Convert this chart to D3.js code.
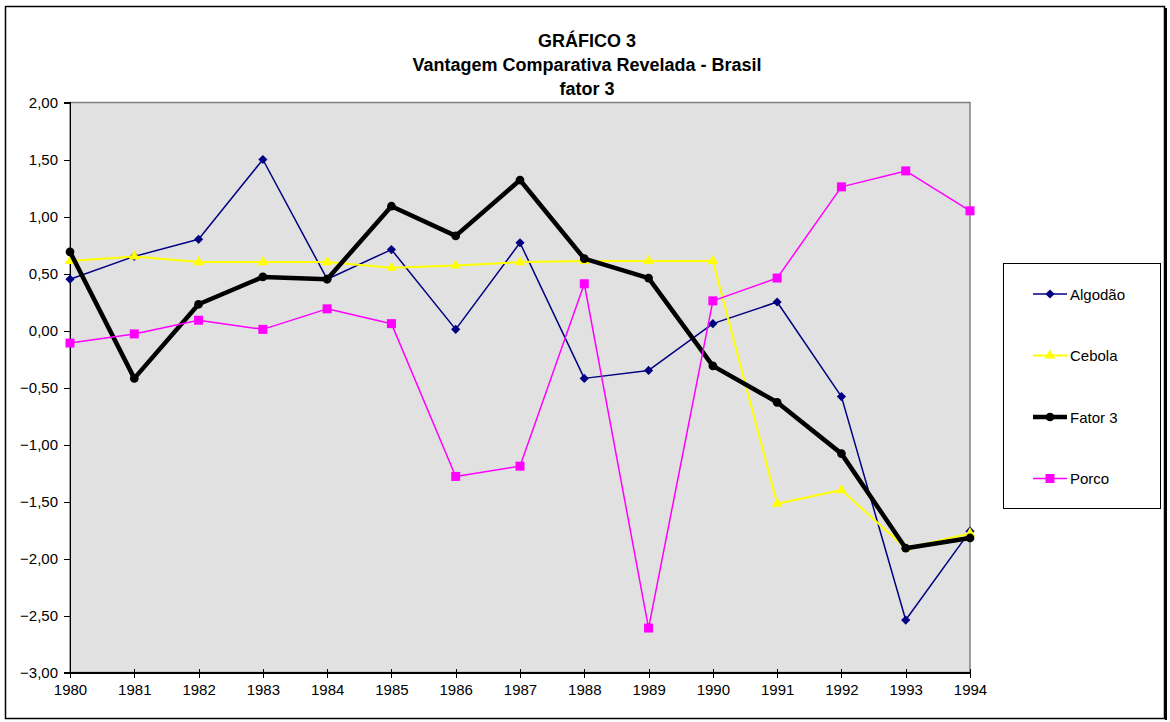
<!DOCTYPE html>
<html>
<head>
<script src="https://d3js.org/d3.v7.min.js"></script>
<style>
  body { margin: 0; background: #fff; }
  svg { font-family: "Liberation Sans", Arial, sans-serif; }
  .axis path, .axis line { stroke: #000; shape-rendering: crispEdges; }
  .axis text { font-size: 15px; fill: #000; font-family: "Liberation Sans", Arial, sans-serif; }
</style>
</head>
<body>
<script>
var years = [1980, 1981, 1982, 1983, 1984, 1985, 1986, 1987, 1988, 1989, 1990, 1991, 1992, 1993, 1994];
var algodao = [0.45, 0.65, 0.80, 1.50, 0.45, 0.71, 0.01, 0.77, -0.42, -0.35, 0.06, 0.25, -0.58, -2.54, -1.76];
var cebola = [0.61, 0.65, 0.60, 0.60, 0.60, 0.55, 0.57, 0.60, 0.61, 0.61, 0.61, -1.52, -1.40, -1.91, -1.78];
var fator3 = [0.69, -0.42, 0.23, 0.47, 0.45, 1.09, 0.83, 1.32, 0.63, 0.46, -0.31, -0.63, -1.08, -1.91, -1.82];
var porco = [-0.11, -0.03, 0.09, 0.01, 0.19, 0.06, -1.28, -1.19, 0.41, -2.61, 0.26, 0.46, 1.26, 1.40, 1.05];
var yTicks = [2, 1.5, 1, 0.5, 0, -0.5, -1, -1.5, -2, -2.5, -3];
var titleLines = ['GRÁFICO 3', 'Vantagem Comparativa Revelada - Brasil', 'fator 3'];

// diamond = square turned 45 degrees
var series = [
  {name: 'Algodão', values: algodao, color: '#000080', width: 1.5, symbol: d3.symbolSquare, size: 42, rot: 45},
  {name: 'Cebola', values: cebola, color: '#ffff00', width: 2, symbol: d3.symbolTriangle, size: 48, rot: 0},
  {name: 'Fator 3', values: fator3, color: '#000000', width: 4.5, symbol: d3.symbolCircle, size: 60, rot: 0},
  {name: 'Porco', values: porco, color: '#ff00ff', width: 1.5, symbol: d3.symbolSquare, size: 81, rot: 0}
];

var w = 1170, h = 722;
var plotL = 70, plotR = 970, plotT = 102.5, plotB = 672.5;

var svg = d3.select('body').append('svg').attr('width', w).attr('height', h);

// outer frame
svg.append('rect').attr('x', 5.5).attr('y', 6.5).attr('width', 1159).attr('height', 712)
  .attr('fill', '#fff').attr('stroke', '#000').attr('stroke-width', 1.5);
svg.append('line').attr('x1', 1166).attr('x2', 1166).attr('y1', 8).attr('y2', 720)
  .attr('stroke', '#000').attr('stroke-width', 2);

titleLines.forEach(function(t, i) {
  svg.append('text').attr('x', 587).attr('y', 47 + i * 24)
    .attr('text-anchor', 'middle').attr('font-size', '18px').attr('font-weight', 'bold')
    .text(t);
});

var xScale = d3.scaleLinear().domain([1980, 1994]).range([plotL, plotR]);
var yScale = d3.scaleLinear().domain([-3, 2]).range([plotB, plotT]);

svg.append('rect').attr('x', plotL).attr('y', plotT)
  .attr('width', plotR - plotL).attr('height', plotB - plotT)
  .attr('fill', '#e1e1e1').attr('stroke', '#808080').attr('stroke-width', 1.5);

var yAxis = d3.axisLeft(yScale).tickValues(yTicks).tickSize(6).tickPadding(6)
  .tickFormat(function(d) { return d3.format('.2f')(d).replace('.', ','); });
svg.append('g').attr('class', 'axis').attr('transform', 'translate(' + plotL + ',0)').call(yAxis)
  .call(function(g) { g.select('.domain').attr('stroke-width', 1.5); });

var xAxis = d3.axisBottom(xScale).tickValues(years).tickSize(5).tickPadding(7)
  .tickFormat(d3.format('d'));
svg.append('g').attr('class', 'axis').attr('transform', 'translate(0,' + plotB + ')').call(xAxis)
  .call(function(g) {
    g.select('.domain').attr('stroke-width', 1.5);
    g.selectAll('.tick line').attr('y1', -4).attr('y2', 5);
  });

var lineGen = d3.line()
  .x(function(d, i) { return xScale(years[i]); })
  .y(function(d) { return yScale(d); });

series.forEach(function(s) {
  svg.append('path').attr('d', lineGen(s.values))
    .attr('fill', 'none').attr('stroke', s.color).attr('stroke-width', s.width)
    .attr('stroke-linejoin', 'round');
  svg.append('g').selectAll('path').data(s.values).join('path')
    .attr('d', d3.symbol().type(s.symbol).size(s.size))
    .attr('transform', function(d, i) {
      return 'translate(' + xScale(years[i]) + ',' + yScale(d) + ') rotate(' + s.rot + ')';
    })
    .attr('fill', s.color);
});

// legend
var lg = svg.append('g');
lg.append('rect').attr('x', 1003.5).attr('y', 263.5).attr('width', 157).attr('height', 245)
  .attr('fill', '#fff').attr('stroke', '#000').attr('stroke-width', 1);
series.forEach(function(s, i) {
  var y = 294 + i * 61.5;
  lg.append('line').attr('x1', 1033).attr('x2', 1067).attr('y1', y).attr('y2', y)
    .attr('stroke', s.color).attr('stroke-width', s.width);
  lg.append('path').attr('d', d3.symbol().type(s.symbol).size(s.size))
    .attr('transform', 'translate(1050,' + y + ') rotate(' + s.rot + ')').attr('fill', s.color);
  lg.append('text').attr('x', 1070).attr('y', y + 5.5).attr('font-size', '15px').text(s.name);
});
</script>
</body>
</html>
